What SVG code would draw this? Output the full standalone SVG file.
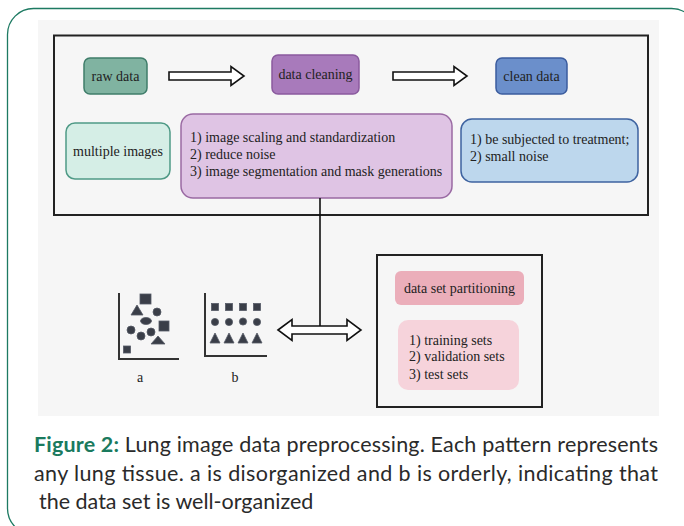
<svg xmlns="http://www.w3.org/2000/svg" width="684" height="526" viewBox="0 0 684 526">
<style>
.t{font-family:'Liberation Serif','DejaVu Serif',serif;font-size:14px;fill:#222}
.c{text-anchor:middle}
.cap{font-family:Lato,'Open Sans','Noto Sans',sans-serif;font-size:21.5px;fill:#2a2a2a}
.arr{fill:#fff;stroke:#111;stroke-width:1.6;stroke-linejoin:miter}
.sh{fill:#3a3e48;stroke:#555a66;stroke-width:0.8}
.ax{stroke:#333;stroke-width:2;fill:none}
</style>
<rect x="0" y="0" width="684" height="526" fill="#fff"/>
<rect x="7.5" y="8.5" width="690" height="526" rx="26" fill="none" stroke="#1d7a62" stroke-width="1.3"/>
<rect x="38" y="20" width="621" height="396" fill="#f6f6f6"/>
<rect x="54" y="35.5" width="594" height="179.5" fill="none" stroke="#222" stroke-width="2"/>

<g id="raw-data"><rect x="84" y="58" width="63" height="36" rx="6" fill="#80b3a1" stroke="#3f7d6a" stroke-width="1.5"/><text class="t c" x="115.5" y="80.5">raw data</text></g>
<g id="data-cleaning"><rect x="272" y="55" width="87" height="39" rx="6" fill="#a87abb" stroke="#8a5a9e" stroke-width="1.5"/><text class="t c" x="315.5" y="79">data cleaning</text></g>
<g id="clean-data"><rect x="496" y="58" width="71" height="36" rx="6" fill="#6b8fcb" stroke="#3b5c9e" stroke-width="1.5"/><text class="t c" x="531.5" y="80.5">clean data</text></g>
<g id="multiple-images"><rect x="66" y="123" width="104" height="56" rx="9" fill="#d5eee6" stroke="#4f9a86" stroke-width="1.5"/><text class="t c" x="118" y="155.5">multiple images</text></g>
<g id="cleaning-steps"><rect x="181" y="114" width="271" height="84" rx="12" fill="#dfc4e4" stroke="#9a6aa3" stroke-width="1.5"/>
<text class="t" x="190" y="142">1) image scaling and standardization</text>
<text class="t" x="190" y="159">2) reduce noise</text>
<text class="t" x="190" y="176">3) image segmentation and mask generations</text></g>
<g id="clean-props"><rect x="461" y="119" width="177" height="63" rx="11" fill="#bdd7ed" stroke="#3e63a0" stroke-width="1.5"/>
<text class="t" x="470" y="144">1) be subjected to treatment;</text>
<text class="t" x="470" y="161">2) small noise</text></g>

<g id="partition-box"><rect x="377" y="255" width="165" height="152" fill="none" stroke="#222" stroke-width="2"/></g>
<g id="partitioning"><rect x="395" y="271" width="129" height="34" rx="6" fill="#ebaeba"/><text class="t c" x="459.5" y="292.5">data set partitioning</text></g>
<g id="sets"><rect x="398" y="320" width="121" height="70" rx="10" fill="#f6d3db"/>
<text class="t" x="409" y="345">1) training sets</text>
<text class="t" x="409" y="361">2) validation sets</text>
<text class="t" x="409" y="379">3) test sets</text></g>

<g id="scatter-a">
<path class="ax" d="M119 293 V359 H179"/>
<rect class="sh" x="140" y="294" width="11" height="10"/>
<polygon class="sh" points="137,305 131,315 143,315"/>
<circle class="sh" cx="157" cy="312" r="4"/>
<ellipse class="sh" cx="146" cy="321" rx="5.5" ry="3.5"/>
<rect class="sh" x="159" y="321" width="10" height="10"/>
<circle class="sh" cx="131" cy="330" r="4"/>
<circle class="sh" cx="141" cy="336" r="4"/>
<circle class="sh" cx="151" cy="332" r="4"/>
<polygon class="sh" points="158,336 151,344 165,344"/>
<rect class="sh" x="123.5" y="346" width="7" height="7"/>
<text class="t c" x="140" y="382">a</text>
</g>
<g id="scatter-b">
<path class="ax" d="M205 293 V356 H267"/>
<rect class="sh" x="211.5" y="303.5" width="7" height="7"/>
<rect class="sh" x="225.5" y="303.5" width="7" height="7"/>
<rect class="sh" x="239.5" y="303.5" width="7" height="7"/>
<rect class="sh" x="253.5" y="303.5" width="7" height="7"/>
<circle class="sh" cx="215" cy="322" r="3.6"/>
<circle class="sh" cx="229" cy="322" r="3.6"/>
<circle class="sh" cx="243" cy="321.5" r="3.6"/>
<circle class="sh" cx="257" cy="322" r="3.6"/>
<polygon class="sh" points="215,333 210,343 220,343"/>
<polygon class="sh" points="229,333 224,343 234,343"/>
<polygon class="sh" points="243,333 238,343 248,343"/>
<polygon class="sh" points="257,333 252,343 262,343"/>
<text class="t c" x="235" y="382">b</text>
</g>

<g id="connectors">
<polygon class="arr" points="169,72 231,72 231,66.5 244,76 231,85.5 231,80 169,80"/>
<polygon class="arr" points="393,72 454,72 454,66.5 467,76 454,85.5 454,80 393,80"/>
<line x1="320" y1="198" x2="320" y2="326" stroke="#111" stroke-width="1.6"/>
<polygon class="arr" points="278,330 292,319.5 292,326 347,326 347,319.5 361,330 347,340.5 347,334 292,334 292,340.5"/>
</g>

<g id="caption">
<text class="cap" x="34" y="452" textLength="624" lengthAdjust="spacing"><tspan font-weight="bold" fill="#1a7a5e">Figure 2:</tspan> Lung image data preprocessing. Each pattern represents</text>
<text class="cap" x="34" y="481" textLength="624" lengthAdjust="spacing">any lung tissue. a is disorganized and b is orderly, indicating that</text>
<text class="cap" x="39" y="509">the data set is well-organized</text>
</g>
</svg>
